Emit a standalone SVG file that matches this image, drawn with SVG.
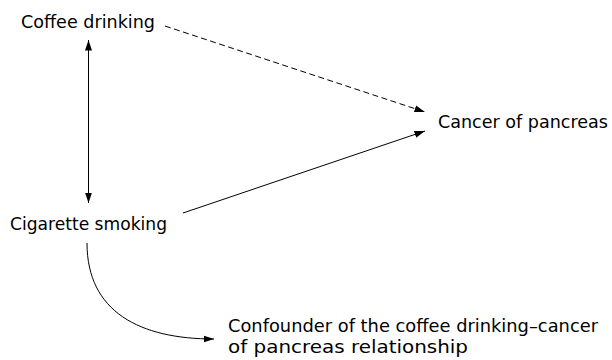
<svg xmlns="http://www.w3.org/2000/svg" width="612" height="360" viewBox="0 0 612 360">
<style>
  text { font-family: "DejaVu Sans", "Liberation Sans", sans-serif; font-size: 17.5px; fill: #000; }
  .ln { stroke: #000; stroke-width: 1; fill: none; }
  .dash { stroke-dasharray: 6 3.5; }
</style>
<defs>
  <marker id="ah" markerUnits="userSpaceOnUse" markerWidth="11" markerHeight="8" viewBox="0 0 11 8" refX="10.5" refY="4" orient="auto-start-reverse">
    <path d="M0,0.5 L10.5,4 L0,7.5 z" fill="#000"/>
  </marker>
</defs>
<rect width="612" height="360" fill="#fff"/>
<g id="connectors">
  <path class="ln dash" d="M165,26 L425,112" marker-end="url(#ah)"/>
  <path class="ln" d="M183,213 L425,131" marker-end="url(#ah)"/>
  <path class="ln" d="M88.5,40 L88.5,203" marker-start="url(#ah)" marker-end="url(#ah)"/>
  <path class="ln" d="M87,243 C87,312 140,339 214,339" marker-end="url(#ah)"/>
</g>
<g id="coffee"><text x="21" y="28" textLength="134" lengthAdjust="spacingAndGlyphs">Coffee drinking</text></g>
<g id="cancer"><text x="438" y="128" textLength="170" lengthAdjust="spacingAndGlyphs">Cancer of pancreas</text></g>
<g id="smoking"><text x="10" y="230" textLength="157" lengthAdjust="spacingAndGlyphs">Cigarette smoking</text></g>
<g id="confounder">
  <text x="228" y="332" textLength="370" lengthAdjust="spacingAndGlyphs">Confounder of the coffee drinking–cancer</text>
  <text x="228" y="353" textLength="240" lengthAdjust="spacingAndGlyphs">of pancreas relationship</text>
</g>
</svg>
